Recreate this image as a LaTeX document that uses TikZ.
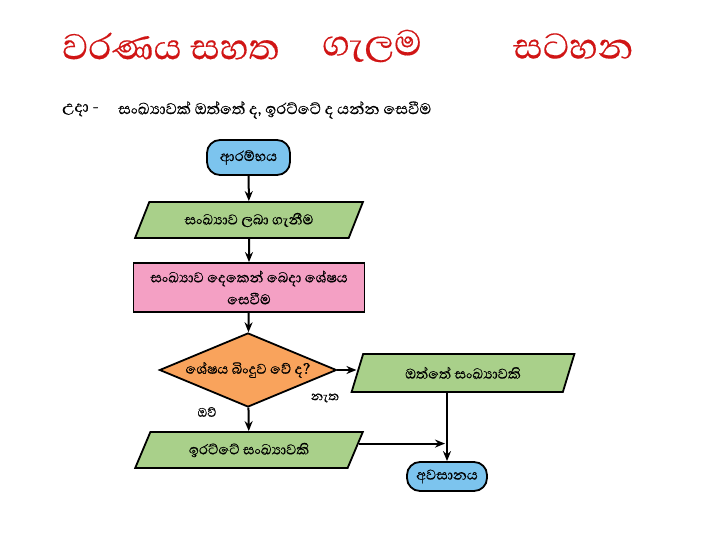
\documentclass[tikz,border=0pt]{standalone}
\usepackage{fontspec}
\setmainfont[Script=Sinhala,FakeBold=0.5]{Abhaya Libre}
\newfontfamily\titlefont[Script=Sinhala,FakeBold=0.3]{Abhaya Libre}
\usetikzlibrary{shapes.geometric,arrows.meta,calc}
\definecolor{titlered}{HTML}{D01515}
\definecolor{termblue}{HTML}{7CC4EE}
\definecolor{iogreen}{HTML}{A9D08A}
\definecolor{procpink}{HTML}{F4A0C4}
\definecolor{decorange}{HTML}{F9A35C}
\begin{document}
\begin{tikzpicture}[x=1pt,y=-1pt,
  every node/.style={font=\fontsize{18}{22}\selectfont},
  shapeline/.style={draw=black,line width=1.8pt},
  term/.style={shapeline,fill=termblue,rounded corners=13pt,minimum width=83pt,minimum height=35pt,inner sep=0pt},
  io/.style={shapeline,trapezium,fill=iogreen,trapezium stretches=true,trapezium left angle=57,trapezium right angle=123,minimum height=36pt,minimum width=228pt,inner sep=0pt},
  proc/.style={shapeline,fill=procpink,minimum width=231pt,minimum height=49pt,inner sep=0pt,align=center},
  dec/.style={shapeline,diamond,fill=decorange,minimum width=177pt,minimum height=74pt,inner sep=0pt},
  conn/.style={line width=2pt,-{Stealth[length=10pt,width=8pt]}},
  titletext/.style={font=\titlefont\fontsize{46}{50}\selectfont,text=titlered,anchor=west,inner sep=0pt},
  subtext/.style={font=\fontsize{19.8}{22}\selectfont,anchor=west,inner sep=0pt},
  lbl/.style={font=\fontsize{16}{18}\selectfont,inner sep=0pt}
]
\useasboundingbox (0,0) rectangle (720,540);
% title
\node[titletext] (t1) at (62,46) {වරණය සහත};
\node[titletext] (t2) at (322,46) {ගැලම};
\node[titletext] (t3) at (513,46) {සටහන};
% subtitle
\node[subtext] (s1) at (62,110) {උදා -};
\node[subtext] (s2) at (118,110) {සංඛ්^^^^200dයාවක් ඔත්තේ ද, ඉරට්ටේ ද යන්න සෙවීම};
% flowchart
\node[term] (start) at (248.5,157.5) {ආරම්භය};
\node[io] (inp) at (249,220) {සංඛ්^^^^200dයාව ලබා ගැනීම};
\node[proc] (pr) at (249,287.5) {සංඛ්^^^^200dයාව දෙකෙන් බෙදා ශේෂය\\සෙවීම};
\node[dec] (dc) at (248,370) {};
\node (dctext) at (dc) {ශේෂය බිංදුව වේ ද?};
\node[io,minimum width=223pt,minimum height=38pt,trapezium left angle=61,trapezium right angle=119] (odd) at (463,373) {ඔත්තේ සංඛ්^^^^200dයාවකි};
\node[io] (even) at (249,450) {ඉරට්ටේ සංඛ්^^^^200dයාවකි};
\node[term,minimum width=80pt,minimum height=29pt] (endn) at (447,476.5) {අවසානය};
\node[lbl] (no) at (325,398) {නැත};
\node[lbl] (yes) at (207,412) {ඔව්};
% connectors
\draw[conn] (start) -- (inp);
\draw[conn] (inp) -- (pr);
\draw[conn] (pr) -- (dc);
\draw[conn] (dc.east) -- (dc.east -| odd.west);
\draw[conn] (dc) -- (even);
\coordinate (evout) at ($(even.top right corner)!0.33!(even.bottom right corner)$);
\draw[conn,shorten >=2pt] (evout) -- (evout -| endn.north);
\draw[conn] (odd.south -| endn.north) -- (endn.north);
\end{tikzpicture}
\end{document}
